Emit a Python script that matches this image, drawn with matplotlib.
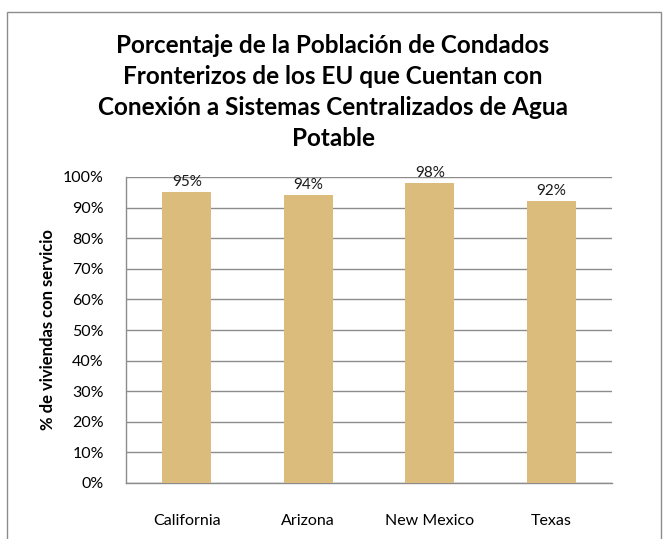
import matplotlib.pyplot as plt
from matplotlib.patches import Rectangle

estados = ['California', 'Arizona', 'New Mexico', 'Texas']
porcentajes = [95, 94, 98, 92]
yticks = list(range(0, 101, 10))
titulo = ('Porcentaje de la Población de Condados\nFronterizos de los EU que Cuentan con\n'
          'Conexión a Sistemas Centralizados de Agua\nPotable')

plt.rcParams['font.family'] = ['Lato', 'DejaVu Sans']

fig = plt.figure(figsize=(6.66, 5.39), dpi=100)
W, H = 666, 539
ax = fig.add_axes([126 / W, 1 - 483 / H, (612 - 126) / W, (483 - 177) / H])

# marco exterior
fig.patches.append(Rectangle((7 / W, -0.01), (661 - 7) / W, 1 - 12 / H + 0.01,
                             transform=fig.transFigure, fill=False,
                             edgecolor='#8c8c8c', linewidth=1.0))

x = range(len(estados))
bars = ax.bar(x, porcentajes, width=0.4, color='#dcbc7c', zorder=3)
for b, v in zip(bars, porcentajes):
    ax.text(b.get_x() + b.get_width() / 2, v + 1.0, f'{v}%', ha='center', va='bottom',
            fontsize=11, color='#1a1a1a', clip_on=False)

ax.set_xlim(-0.5, len(estados) - 0.5)
ax.set_ylim(0, 100)
ax.set_yticks(yticks)
ax.set_yticklabels([f'{t}%' for t in yticks], fontsize=11.5)
ax.set_xticks(list(x))
ax.set_xticklabels(estados, fontsize=11.5)
ax.tick_params(axis='x', length=0, pad=22)
ax.tick_params(axis='y', length=0, pad=16)
ax.yaxis.grid(True, color='#8c8c8c', linewidth=1.0, zorder=0)
for s in ['top', 'right']:
    ax.spines[s].set_visible(False)
for s in ['left', 'bottom']:
    ax.spines[s].set_color('#8c8c8c')
    ax.spines[s].set_linewidth(1.0)

ax.set_ylabel('% de viviendas con servicio', fontsize=12, fontweight='bold', labelpad=5)
fig.text(0.5, 1 - 92 / H, titulo, ha='center', va='center', fontsize=17.5,
         fontweight='bold', linespacing=1.42)

fig.savefig('out.png', dpi=100)
